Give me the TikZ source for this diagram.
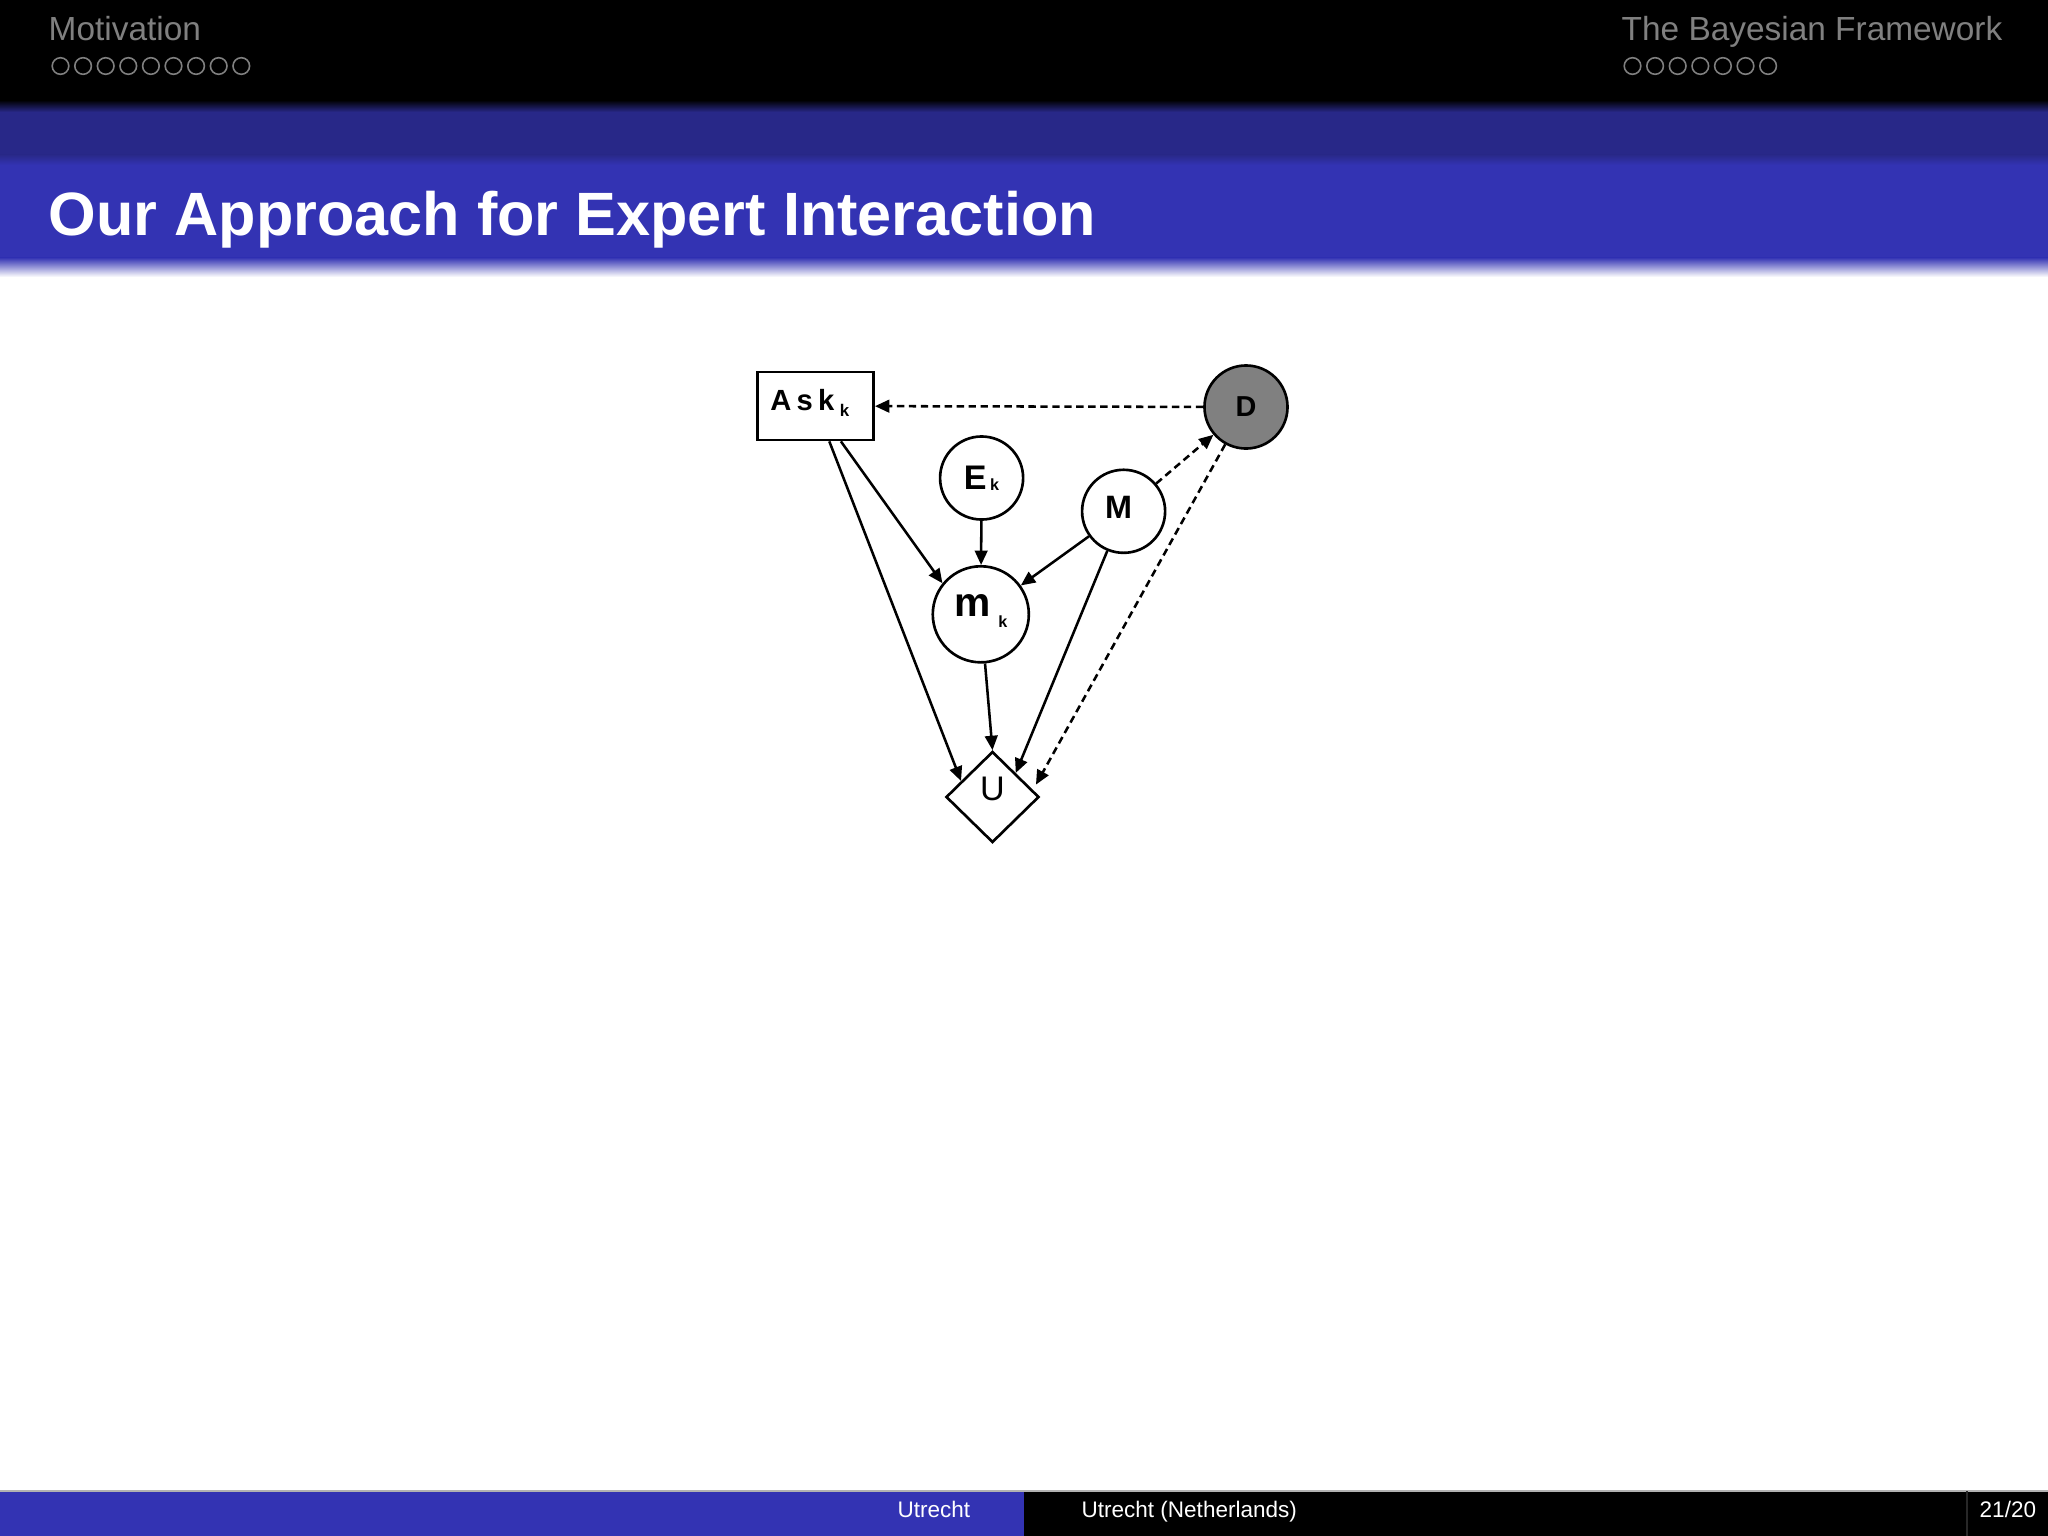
\documentclass[tikz,border=0pt]{standalone}
\usepackage{fontspec}
\setmainfont{Liberation Sans}
\usetikzlibrary{shapes.geometric,arrows.meta}
\definecolor{hdark}{RGB}{40,40,136}
\definecolor{sblue}{RGB}{51,51,179}
\definecolor{hgray}{RGB}{128,128,128}
\definecolor{dfill}{RGB}{128,128,128}
\definecolor{sepgray}{RGB}{40,40,40}
\newcommand{\setfs}[1]{\fontsize{#1}{#1}\selectfont}
\begin{document}
\begin{tikzpicture}[x=0.01cm,y=-0.01cm,
  headtext/.style={anchor=base west, text=hgray, inner sep=0pt, font=\setfs{9.5pt}},
  foottext/.style={anchor=base west, text=white, inner sep=0pt, font=\setfs{6.4pt}},
  navdot/.style={draw=hgray, line width=0.45pt},
  edge/.style={line width=0.72pt, -{Triangle[length=4.1pt,width=3.6pt]}},
  dashededge/.style={edge, dash pattern=on 2.1pt off 1.3pt},
  bnode/.style={circle, draw, line width=0.75pt, inner sep=0pt, minimum size=0.83cm, fill=white},
  decbox/.style={rectangle, draw, line width=0.75pt, inner sep=0pt, minimum width=1.16cm, minimum height=0.68cm},
  utilnode/.style={diamond, draw, line width=0.75pt, inner sep=0pt, minimum width=0.93cm, minimum height=0.91cm}
]
\useasboundingbox (0,0) rectangle (2048,1536);
\fill[white] (0,0) rectangle (2048,1536);

% header
\fill[black] (0,0) rectangle (2048,101);
\shade[top color=black, bottom color=hdark] (0,100) rectangle (2048,112);
\fill[hdark] (0,111.5) rectangle (2048,155);
\shade[top color=hdark, bottom color=sblue] (0,154.5) rectangle (2048,165);
\fill[sblue] (0,164.5) rectangle (2048,258);
\shade[top color=sblue, bottom color=white] (0,257.5) rectangle (2048,277);

\node[headtext] (sec1) at (48,40) {Motivation};
\node[headtext] (sec2) at (1621,40) {The Bayesian Framework};
\foreach \i in {0,...,8} \draw[navdot] (60.5+22.6*\i,66) circle (8.3);
\foreach \i in {0,...,6} \draw[navdot] (1632.5+22.6*\i,66) circle (8.3);

\node[anchor=base west, text=white, inner sep=0pt, font=\setfs{17.4pt}\bfseries] (title) at (48,235) {Our Approach for Expert Interaction};

% footer
\fill[sblue] (0,1491) rectangle (1024,1536);
\fill[black] (1024,1491) rectangle (2048,1536);
\draw[gray!60, line width=0.4pt] (0,1491) -- (2048,1491);
\draw[sepgray, line width=0.5pt] (1967,1491) -- (1967,1536);
\node[foottext] (fauthor) at (897,1517) {Utrecht};
\node[foottext] (finst) at (1081,1517) {Utrecht (Netherlands)};
\node[foottext] (fpage) at (1979,1517) {21/20};

% diagram nodes
\node[decbox, font=\bfseries] (Ask) at (815.6,406)
  {\setfs{8.3pt}A\hspace{1.5pt}s\hspace{1.5pt}k\hspace{1.6pt}\raisebox{-1.6pt}{\setfs{4.8pt}k}\hspace{3.3pt}\rule[-3.3pt]{0pt}{0pt}};
\node[bnode, fill=dfill, font=\bfseries] (D) at (1246,407) {\setfs{8.2pt}D};
\node[bnode, font=\bfseries] (E) at (981.6,478)
  {\setfs{9.7pt}E\hspace{1.0pt}\raisebox{-0.4pt}{\setfs{4.6pt}k}};
\node[bnode, font=\bfseries] (M) at (1123.6,511.3)
  {\setfs{9.2pt}M\hspace{2.9pt}\rule[-2.3pt]{0pt}{0pt}};
\node[bnode, minimum size=0.96cm, font=\bfseries] (m) at (980.8,614.3)
  {\setfs{11.6pt}m\hspace{2.2pt}\raisebox{-3.1pt}{\setfs{4.6pt}k}\rule[-4.8pt]{0pt}{0pt}};
\node[utilnode] (U) at (992.5,797) {\setfs{9.7pt}U\rule[-4.5pt]{0pt}{0pt}};

% connectors
\draw[dashededge] (D) -- (Ask);
\draw[dashededge] (M) -- (D);
\draw[dashededge, shorten >=1.7pt] (D) -- (U.10);
\draw[edge] (Ask) -- (m.141);
\draw[edge] (Ask) -- (U.153);
\draw[edge] (E) -- (m);
\draw[edge] (M) -- (m);
\draw[edge] (M) -- (U.46);
\draw[edge] (m) -- (U.north);
\end{tikzpicture}
\end{document}
